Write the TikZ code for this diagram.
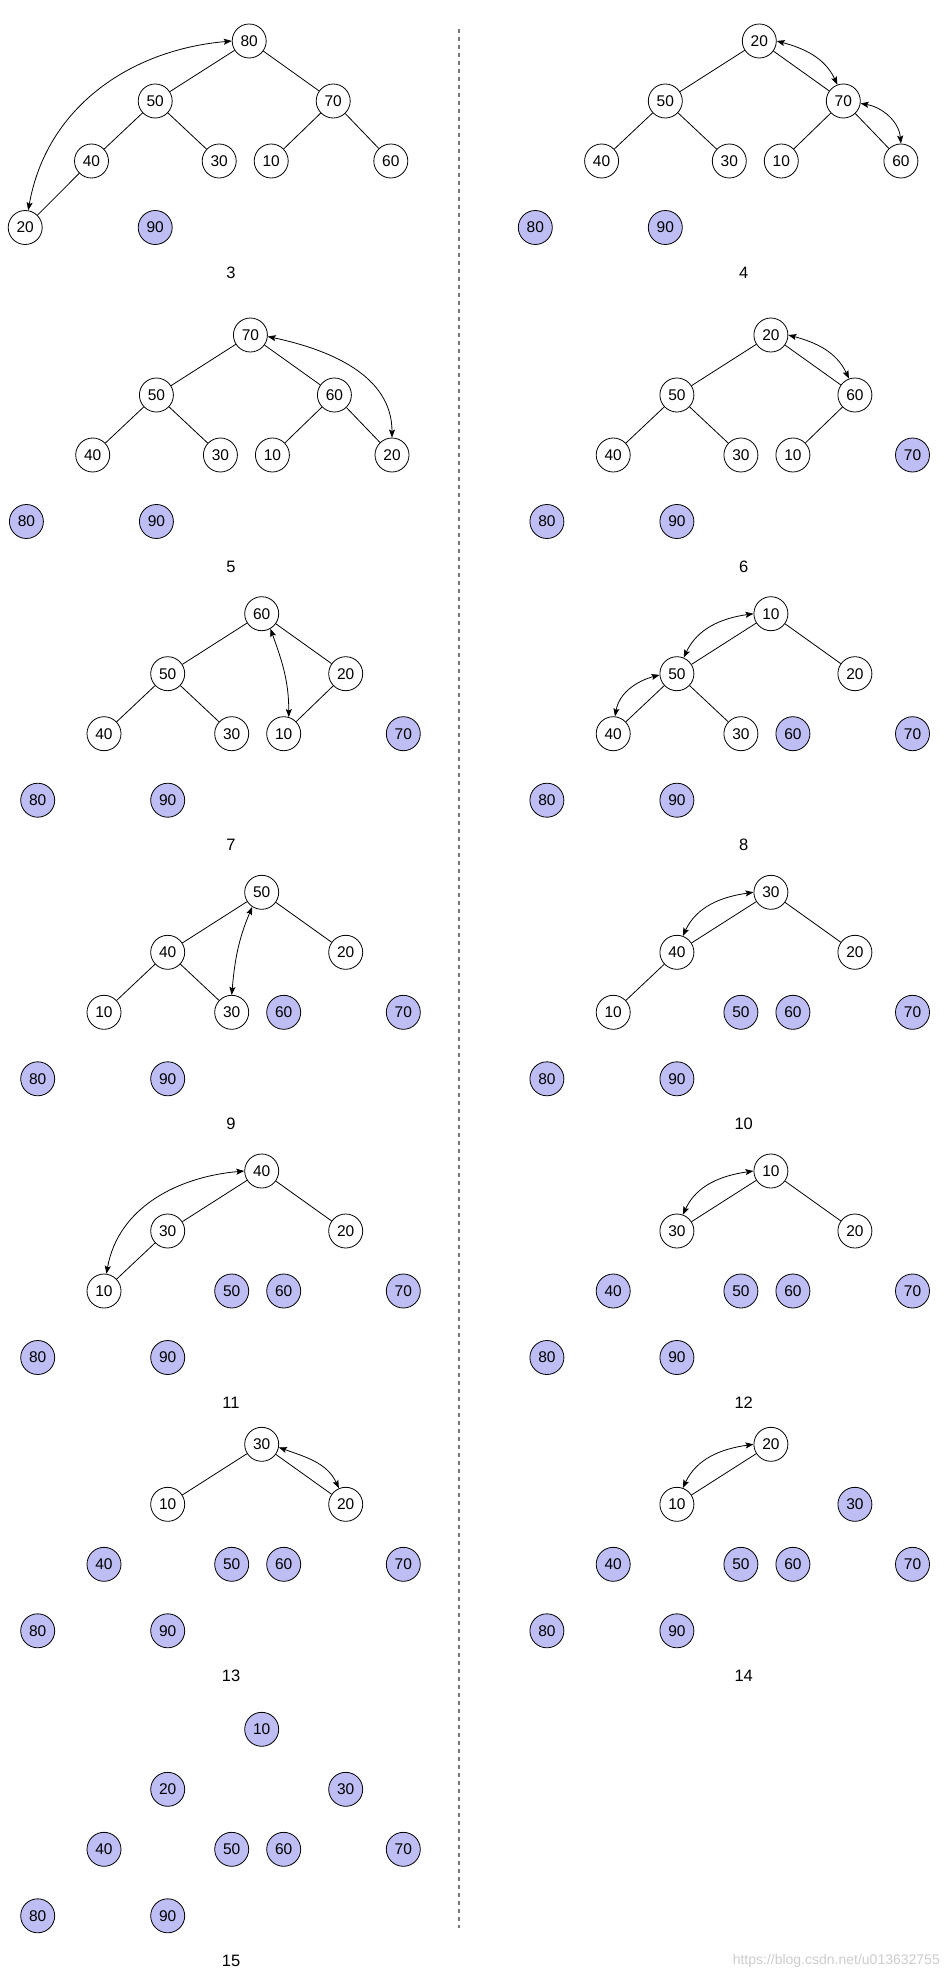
\documentclass[tikz,border=0pt]{standalone}
\usepackage{fontspec}
\setmainfont{Liberation Sans}
\usetikzlibrary{arrows.meta}
\definecolor{heapblue}{RGB}{190,190,245}
\definecolor{divgray}{RGB}{120,120,120}
\definecolor{wmgray}{RGB}{205,205,205}
\tikzset{
  wn/.style={circle, draw=black, line width=0.8pt, minimum size=34pt, inner sep=0pt, fill=white, font=\fontsize{15.5}{18}\selectfont},
  bn/.style={wn, fill=heapblue},
  edge/.style={draw=black, line width=0.8pt},
  swp/.style={{Stealth[length=8pt,width=6pt,inset=1.5pt]}-{Stealth[length=8pt,width=6pt,inset=1.5pt]}, line width=0.8pt},
  lbl/.style={font=\fontsize{16.5}{20}\selectfont, inner sep=0pt},
  divider/.style={draw=divgray, line width=1.2pt, dash pattern=on 4pt off 4pt},
  wm/.style={text=wmgray, font=\fontsize{14}{16}\selectfont, inner sep=0pt}
}
\newcommand{\heappanel}[6]{%
  \foreach \v [count=\i] in {#4} {%
    \pgfmathtruncatemacro{\k}{\i-1}%
    \pgfmathsetmacro{\px}{{261.7,167.7,345.7,104,231.7,283.7,403.3,37.7,167.7}[\k]+(#2)}%
    \pgfmathsetmacro{\py}{-(#3+{0,60,60,120,120,120,120,186.5,186.5}[\k])}%
    \ifnum\i>#5\relax
      \node[bn] (p#1n\i) at (\px,\py) {\v};
    \else
      \node[wn] (p#1n\i) at (\px,\py) {\v};
    \fi
  }%
  \ifnum#5>1\relax
    \foreach \i in {2,...,#5} {%
      \pgfmathtruncatemacro{\pp}{\i/2}%
      \draw[edge] (p#1n\pp) -- (p#1n\i);
    }%
  \fi
  \node[lbl] (p#1lab) at (#6,{-(#3+231.5)}) {#1};
}
\begin{document}
\begin{tikzpicture}[x=1pt,y=1pt]
\fill[white] (0,0) rectangle (944,-1977);
\useasboundingbox (0,0) rectangle (944,-1977);

\coordinate (dtop) at (459,-29);
\coordinate (dbot) at (459,-1928);
\draw[divider] (dtop) -- (dbot);

\heappanel{3}{-12.5}{41}{80,50,70,40,30,10,60,20,90}{8}{231}
\heappanel{4}{497.6}{41}{20,50,70,40,30,10,60,80,90}{7}{743.7}
\heappanel{5}{-11.3}{335}{70,50,60,40,30,10,20,80,90}{7}{231}
\heappanel{6}{509.2}{335}{20,50,60,40,30,10,70,80,90}{6}{743.7}
\heappanel{7}{0}{613.7}{60,50,20,40,30,10,70,80,90}{6}{231}
\heappanel{8}{509.2}{613.7}{10,50,20,40,30,60,70,80,90}{5}{743.7}
\heappanel{9}{0}{892.3}{50,40,20,10,30,60,70,80,90}{5}{231}
\heappanel{10}{509.2}{892.3}{30,40,20,10,50,60,70,80,90}{4}{743.7}
\heappanel{11}{0}{1171}{40,30,20,10,50,60,70,80,90}{4}{231}
\heappanel{12}{509.2}{1171}{10,30,20,40,50,60,70,80,90}{3}{743.7}
\heappanel{13}{0}{1444.3}{30,10,20,40,50,60,70,80,90}{3}{231}
\heappanel{14}{509.2}{1444.3}{20,10,30,40,50,60,70,80,90}{2}{743.7}
\heappanel{15}{0}{1729.3}{10,20,30,40,50,60,70,80,90}{0}{231}

% swap arrows
\draw[swp] (p3n1.west) to[out=185,in=80] (p3n8.80);
\draw[swp] (p4n1.east) to[out=-15,in=115] (p4n3.110);
\draw[swp] (p4n3.-8) to[out=-10,in=95] (p4n7.north);
\draw[swp] (p5n1.-5) to[out=-12,in=90] (p5n7.north);
\draw[swp] (p6n1.east) to[out=-15,in=115] (p6n3.110);
\draw[swp] (p7n1.-60) to[out=-70,in=90] (p7n6.73);
\draw[swp] (p8n1.west) to[out=188,in=65] (p8n2.67);
\draw[swp] (p8n2.184) to[out=195,in=80] (p8n4.84);
\draw[swp] (p9n1.-123) to[out=-113,in=85] (p9n5.north);
\draw[swp] (p10n1.west) to[out=188,in=65] (p10n2.70);
\draw[swp] (p11n1.west) to[out=185,in=80] (p11n4.82);
\draw[swp] (p12n1.west) to[out=188,in=65] (p12n2.70);
\draw[swp] (p13n1.-10) to[out=-20,in=115] (p13n3.113);
\draw[swp] (p14n1.west) to[out=188,in=65] (p14n2.70);

\node[wm, anchor=base east] (wmark) at (940,-1964) {https://blog.csdn.net/u013632755};
\end{tikzpicture}
\end{document}
